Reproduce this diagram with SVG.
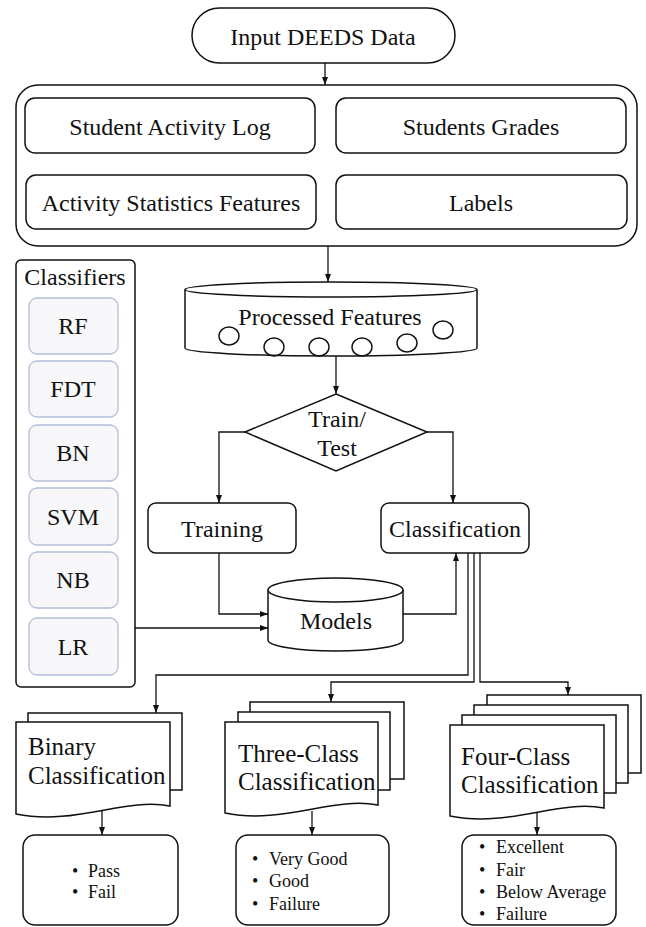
<svg xmlns="http://www.w3.org/2000/svg" width="646" height="927" viewBox="0 0 646 927" font-family="'Liberation Serif','Times New Roman',serif">
<defs>
<style>
text{font-family:"Liberation Serif","Times New Roman",serif;fill:#111;}
.t{font-size:24px;text-anchor:middle;}
.d{font-size:25px;}
.b{font-size:18px;}
.box{fill:#fff;stroke:#111;stroke-width:1.5;}
.cls{fill:#f7f7f9;stroke:#b3bfd8;stroke-width:1.3;}
.ln{fill:none;stroke:#111;stroke-width:1.4;}
.con{fill:none;stroke:#111;stroke-width:1.3;marker-end:url(#arr);}
</style>
<marker id="arr" markerUnits="userSpaceOnUse" markerWidth="8" markerHeight="6" refX="8" refY="3" orient="auto">
<path d="M0,0 L8,3 L0,6 z" fill="#111"/>
</marker>
</defs>
<rect width="646" height="927" fill="#fff"/>

<g id="connectors">
<path class="con" d="M325,63 V85"/>
<path class="con" d="M169,153 V175"/>
<path class="con" d="M482,153 V175"/>
<path class="con" d="M328,246 V282"/>
<path class="con" d="M336,356 V394"/>
<path class="con" d="M245,432 H219 V503"/>
<path class="con" d="M427,432 H453 V503"/>
<path class="con" d="M219,553 V614 H268"/>
<path class="con" d="M135,628 H268"/>
<path class="con" d="M403,614 H456 V553"/>
<path class="con" d="M468,553 V675 H156 V713"/>
<path class="con" d="M474,553 V682 H331 V702"/>
<path class="con" d="M480,553 V682 H568 V695"/>
<path class="con" d="M102,811 V835"/>
<path class="con" d="M312,811 V835"/>
<path class="con" d="M537,813 V835"/>
</g>

<g id="input">
<rect class="box" x="192" y="8" width="263" height="55" rx="27.5"/>
<text class="t" x="323" y="45">Input DEEDS Data</text>
</g>

<g id="container">
<rect class="box" x="16" y="85" width="621" height="161" rx="22"/>
</g>
<g id="activity-log">
<rect class="box" x="25" y="98" width="290" height="55" rx="10"/>
<text class="t" x="170" y="135">Student Activity Log</text>
</g>
<g id="grades">
<rect class="box" x="336" y="98" width="290" height="55" rx="10"/>
<text class="t" x="481" y="135">Students Grades</text>
</g>
<g id="features">
<rect class="box" x="26" y="175" width="290" height="54" rx="10"/>
<text class="t" x="171" y="211">Activity Statistics Features</text>
</g>
<g id="labels">
<rect class="box" x="336" y="175" width="291" height="54" rx="10"/>
<text class="t" x="481" y="211">Labels</text>
</g>

<g id="classifiers">
<rect class="box" x="16" y="260" width="119" height="427" rx="5"/>
<text class="t" x="75" y="285">Classifiers</text>
<rect class="cls" x="29" y="298" width="89" height="56" rx="8"/>
<text class="t" x="73" y="334">RF</text>
<rect class="cls" x="29" y="361" width="89" height="56" rx="8"/>
<text class="t" x="73" y="397">FDT</text>
<rect class="cls" x="29" y="425" width="89" height="56" rx="8"/>
<text class="t" x="73" y="461">BN</text>
<rect class="cls" x="29" y="488" width="89" height="57" rx="8"/>
<text class="t" x="73" y="525">SVM</text>
<rect class="cls" x="29" y="552" width="89" height="56" rx="8"/>
<text class="t" x="73" y="588">NB</text>
<rect class="cls" x="29" y="618" width="89" height="57" rx="8"/>
<text class="t" x="73" y="655">LR</text>
</g>

<g id="processed">
<path class="box" d="M185,289.5 V348 A146,8 0 0 0 477,348 V289.5"/>
<ellipse class="box" cx="331" cy="289.5" rx="146" ry="7.5"/>
<text class="t" x="330" y="325">Processed Features</text>
<ellipse class="ln" cx="229" cy="336" rx="10" ry="9"/>
<ellipse class="ln" cx="274" cy="347" rx="10" ry="9"/>
<ellipse class="ln" cx="319" cy="347" rx="10" ry="9"/>
<ellipse class="ln" cx="362" cy="347" rx="10" ry="9"/>
<ellipse class="ln" cx="407" cy="343" rx="10" ry="9"/>
<ellipse class="ln" cx="443" cy="330" rx="10" ry="9"/>
</g>

<g id="train-test">
<path class="box" d="M336,394 L427,432 L336,471 L245,432 Z"/>
<text class="t" x="337" y="427">Train/</text>
<text class="t" x="337" y="456">Test</text>
</g>

<g id="training">
<rect class="box" x="148" y="503" width="148" height="50" rx="8"/>
<text class="t" x="222" y="537">Training</text>
</g>
<g id="classification">
<rect class="box" x="381" y="503" width="148" height="50" rx="8"/>
<text class="t" x="455" y="537">Classification</text>
</g>

<g id="models">
<path class="box" d="M268,590 V640 A67.5,11 0 0 0 403,640 V590"/>
<ellipse class="box" cx="335.5" cy="590" rx="67.5" ry="12"/>
<text class="t" x="336" y="629">Models</text>
</g>

<g id="binary">
<rect class="box" x="28" y="713" width="154" height="77"/>
<path class="box" d="M16,722 H170 V806 C125,797 75,826 16,814 Z"/>
<text class="d" x="28" y="755">Binary</text>
<text class="d" x="28" y="784">Classification</text>
</g>
<g id="three-class">
<rect class="box" x="250" y="702" width="154" height="77"/>
<rect class="box" x="238" y="712" width="152" height="78"/>
<path class="box" d="M225,722 H378 V805 C333,796 283,825 225,813 Z"/>
<text class="d" x="238" y="762">Three-Class</text>
<text class="d" x="238" y="790">Classification</text>
</g>
<g id="four-class">
<rect class="box" x="487" y="695" width="154" height="78"/>
<rect class="box" x="474" y="705" width="154" height="78"/>
<rect class="box" x="462" y="715" width="154" height="78"/>
<path class="box" d="M450,725 H604 V808 C559,799 509,828 450,816 Z"/>
<text class="d" x="461" y="765">Four-Class</text>
<text class="d" x="461" y="793">Classification</text>
</g>

<g id="binary-labels">
<rect class="box" x="23" y="835" width="155" height="90" rx="12"/>
<text class="b" x="72" y="877">•</text><text class="b" x="88" y="877">Pass</text>
<text class="b" x="72" y="898">•</text><text class="b" x="88" y="898">Fail</text>
</g>
<g id="three-labels">
<rect class="box" x="236" y="835" width="153" height="90" rx="12"/>
<text class="b" x="252" y="865">•</text><text class="b" x="269" y="865">Very Good</text>
<text class="b" x="252" y="887">•</text><text class="b" x="269" y="887">Good</text>
<text class="b" x="252" y="910">•</text><text class="b" x="269" y="910">Failure</text>
</g>
<g id="four-labels">
<rect class="box" x="462" y="835" width="154" height="90" rx="12"/>
<text class="b" x="479" y="853">•</text><text class="b" x="496" y="853">Excellent</text>
<text class="b" x="479" y="876">•</text><text class="b" x="496" y="876">Fair</text>
<text class="b" x="479" y="898">•</text><text class="b" x="496" y="898">Below Average</text>
<text class="b" x="479" y="920">•</text><text class="b" x="496" y="920">Failure</text>
</g>
</svg>
